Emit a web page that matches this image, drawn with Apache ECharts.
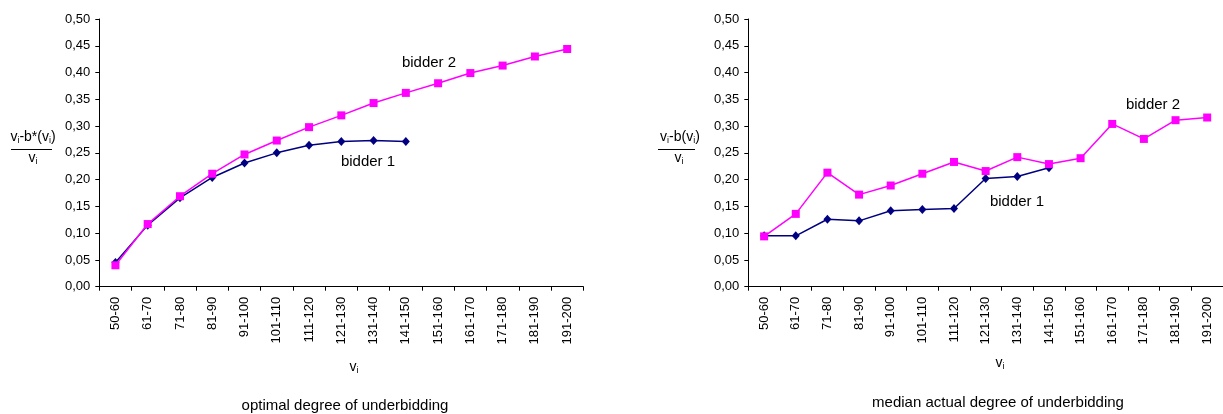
<!DOCTYPE html>
<html>
<head>
<meta charset="utf-8">
<script src="https://cdn.jsdelivr.net/npm/echarts@6/dist/echarts.min.js"></script>
<style>
html,body{margin:0;padding:0;background:#fff;}
#chart{width:1223px;height:414px;}
</style>
</head>
<body>
<div id="chart"></div>
<script>
const categories = ['50-60','61-70','71-80','81-90','91-100','101-110','111-120','121-130','131-140','141-150','151-160','161-170','171-180','181-190','191-200'];
const yTicks = [0,0.05,0.10,0.15,0.20,0.25,0.30,0.35,0.40,0.45,0.50];

// optimal degree of underbidding
const optimalBidder1 = [0.045,0.115,0.166,0.204,0.231,0.250,0.264,0.271,0.273,0.271,null,null,null,null,null];
const optimalBidder2 = [0.040,0.117,0.169,0.211,0.247,0.273,0.298,0.320,0.343,0.362,0.380,0.399,0.413,0.430,0.444];

// median actual degree of underbidding
const actualBidder1 = [0.095,0.095,0.126,0.123,0.142,0.144,0.146,0.202,0.206,0.222,null,null,null,null,null];
const actualBidder2 = [0.094,0.136,0.213,0.172,0.189,0.211,0.233,0.216,0.242,0.229,0.240,0.304,0.276,0.311,0.316];

const FONT = '"Liberation Sans", Arial, sans-serif';
const NAVY = '#000080';
const MAGENTA = '#FF00FF';

function xAxis(gridIndex){
  return {
    type:'category', gridIndex, data:categories, boundaryGap:true,
    axisLine:{lineStyle:{color:'#000',width:1}},
    axisTick:{show:true,inside:false,length:4,lineStyle:{color:'#000'}},
    axisLabel:{rotate:90,interval:0,margin:10,fontFamily:FONT,fontSize:13,color:'#000'},
    splitLine:{show:false}
  };
}
function yAxis(gridIndex){
  return {
    type:'value', gridIndex, min:yTicks[0], max:yTicks[yTicks.length-1], interval:0.05,
    axisLine:{show:true,lineStyle:{color:'#000',width:1}},
    axisTick:{show:true,inside:false,length:4,lineStyle:{color:'#000'}},
    axisLabel:{margin:9,fontFamily:FONT,fontSize:13,color:'#000',
      formatter:v=>v.toFixed(2).replace('.',',')},
    splitLine:{show:false}
  };
}
function series(name,data,xi,color,symbol,size){
  return {
    name, type:'line', xAxisIndex:xi, yAxisIndex:xi, data,
    symbol, symbolSize:size, showSymbol:true, connectNulls:false,
    lineStyle:{color,width:1.5}, itemStyle:{color,borderWidth:0},
    emphasis:{disabled:true}, animation:false, z: symbol==='rect'?3:2
  };
}

const richV = {
  v:{fontFamily:FONT,fontSize:14,color:'#000',lineHeight:16},
  s:{fontFamily:FONT,fontSize:9,color:'#000',lineHeight:16,verticalAlign:'bottom',padding:[4,0,0,0]}
};
function txt(x,y,text,size,rich){
  return {type:'text',x,y,style:{text,fontFamily:FONT,fontSize:size,fill:'#000',
    align:'center',verticalAlign:'middle',rich:rich||undefined}};
}

const chart = echarts.init(document.getElementById('chart'),null,{renderer:'canvas'});
chart.setOption({
  backgroundColor:'#fff',
  animation:false,
  grid:[
    {left:99.3,top:19,width:484,height:267.7,containLabel:false},
    {left:748.3,top:19,width:483,height:267.7,containLabel:false}
  ],
  xAxis:[xAxis(0),xAxis(1)],
  yAxis:[yAxis(0),yAxis(1)],
  series:[
    series('bidder 1',optimalBidder1,0,NAVY,'diamond',[8,9]),
    series('bidder 2',optimalBidder2,0,MAGENTA,'rect',8),
    series('bidder 1',actualBidder1,1,NAVY,'diamond',[8,9]),
    series('bidder 2',actualBidder2,1,MAGENTA,'rect',8)
  ],
  graphic:[
    txt(429,63,'bidder 2',15),
    txt(368,162,'bidder 1',15),
    txt(1153,105,'bidder 2',15),
    txt(1017,202,'bidder 1',15),
    // y-axis fraction labels
    txt(33,137,'{v|v}{s|i}{v|-b*(v}{s|i}{v|)}',14,richV),
    {type:'line',shape:{x1:11,y1:149.5,x2:52,y2:149.5},style:{stroke:'#000',lineWidth:1}},
    txt(33,158,'{v|v}{s|i}',14,richV),
    txt(680,137,'{v|v}{s|i}{v|-b(v}{s|i}{v|)}',14,richV),
    {type:'line',shape:{x1:658,y1:149.5,x2:695,y2:149.5},style:{stroke:'#000',lineWidth:1}},
    txt(679,158,'{v|v}{s|i}',14,richV),
    // x-axis names
    txt(354,367,'{v|v}{s|i}',14,richV),
    txt(1000,363,'{v|v}{s|i}',14,richV),
    // titles
    txt(345,406,'optimal degree of underbidding',15),
    txt(998,403,'median actual degree of underbidding',15)
  ]
});
</script>
</body>
</html>
